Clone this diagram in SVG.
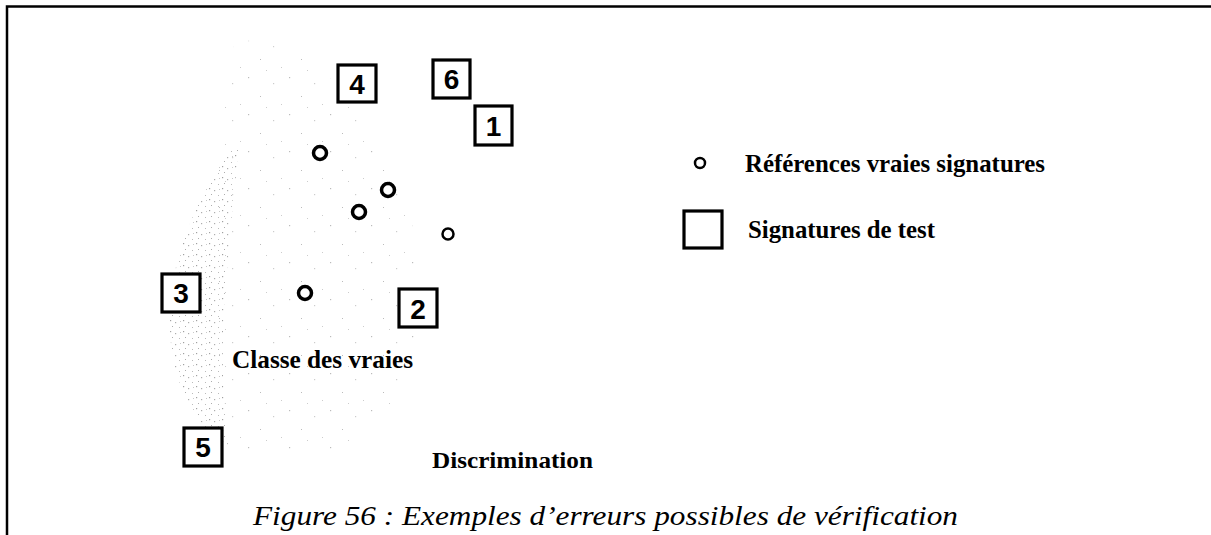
<svg xmlns="http://www.w3.org/2000/svg" width="1211" height="535" viewBox="0 0 1211 535">
<style>
.box{fill:#fff;stroke:#000;stroke-width:3.2}
.num{font-family:"Liberation Sans",Arial,sans-serif;font-weight:bold;font-size:28px;text-anchor:middle;fill:#000}
.ref{fill:#fff;stroke:#000;stroke-width:3.5}
.lbl{font-family:"Liberation Serif","Times New Roman",serif;font-weight:bold;fill:#000}
.cap{font-family:"Liberation Serif","Times New Roman",serif;font-style:italic;font-size:28px;fill:#000}
</style>
<defs>
<pattern id="dense" width="13" height="11" patternUnits="userSpaceOnUse">
<rect x="1" y="1" width="1.2" height="1.2" fill="#888"/>
<rect x="6" y="3" width="1.2" height="1.2" fill="#999"/>
<rect x="3" y="7" width="1" height="1" fill="#999"/>
<rect x="10" y="8" width="1" height="1" fill="#aaa"/>
<rect x="11" y="2" width="1" height="1" fill="#bbb"/>
</pattern>
<pattern id="sparse" width="41" height="37" patternUnits="userSpaceOnUse">
<rect x="2" y="3" width="1.2" height="1.2" fill="#bbb"/>
<rect x="27" y="9" width="1.2" height="1.2" fill="#ccc"/>
<rect x="14" y="22" width="1" height="1" fill="#bbb"/>
<rect x="35" y="30" width="1" height="1" fill="#ccc"/>
<rect x="20" y="33" width="1" height="1" fill="#ccc"/>
</pattern>
</defs>
<g id="frame" fill="none" stroke="#000" stroke-width="2.5">
<path d="M7 535 V6.5 H1211"/>
</g>
<g id="cloud">
<path d="M235 40 C330 40 420 150 420 300 C420 380 380 440 330 450 L240 450 C200 400 215 120 235 40 Z" fill="url(#sparse)"/>
<path d="M228 150 C200 200 168 250 170 330 C172 390 200 430 228 445 C222 400 220 330 228 260 C232 210 236 180 238 150 Z" fill="url(#dense)" opacity="0.8"/>
</g>
<g id="connectors"/>
<g id="ref1"><circle class="ref" cx="320" cy="153" r="6.5"/></g>
<g id="ref2"><circle class="ref" cx="388" cy="190" r="6.5"/></g>
<g id="ref3"><circle class="ref" cx="359" cy="212" r="6.5"/></g>
<g id="ref4"><circle class="ref" cx="448" cy="234" r="5.5" style="stroke-width:2.5"/></g>
<g id="ref5"><circle class="ref" cx="305" cy="293" r="6.5"/></g>
<g id="box4"><rect class="box" x="338" y="65" width="38" height="37"/><text class="num" x="357" y="94">4</text></g>
<g id="box6"><rect class="box" x="433" y="60" width="37" height="38"/><text class="num" x="451.5" y="89">6</text></g>
<g id="box1"><rect class="box" x="475" y="106" width="37" height="39"/><text class="num" x="493.5" y="136">1</text></g>
<g id="box3"><rect class="box" x="162" y="274" width="38" height="38"/><text class="num" x="181" y="303">3</text></g>
<g id="box2"><rect class="box" x="399" y="289" width="38" height="38"/><text class="num" x="418" y="319">2</text></g>
<g id="box5"><rect class="box" x="184" y="428" width="38" height="38"/><text class="num" x="203" y="457">5</text></g>
<g id="classe"><text class="lbl" x="232" y="368" font-size="25" textLength="181" lengthAdjust="spacingAndGlyphs">Classe des vraies</text></g>
<g id="discr"><text class="lbl" x="432" y="468" font-size="23" textLength="161" lengthAdjust="spacingAndGlyphs">Discrimination</text></g>
<g id="legend">
<circle class="ref" cx="700" cy="163" r="5" style="stroke-width:2.5"/>
<text class="lbl" x="745" y="172" font-size="25" textLength="300" lengthAdjust="spacingAndGlyphs">Références vraies signatures</text>
<rect class="box" x="684" y="211" width="38" height="37"/>
<text class="lbl" x="748" y="238" font-size="25" textLength="187" lengthAdjust="spacingAndGlyphs">Signatures de test</text>
</g>
<g id="caption"><text class="cap" x="253" y="525" textLength="705" lengthAdjust="spacingAndGlyphs">Figure 56 : Exemples d’erreurs possibles de vérification</text></g>
</svg>
